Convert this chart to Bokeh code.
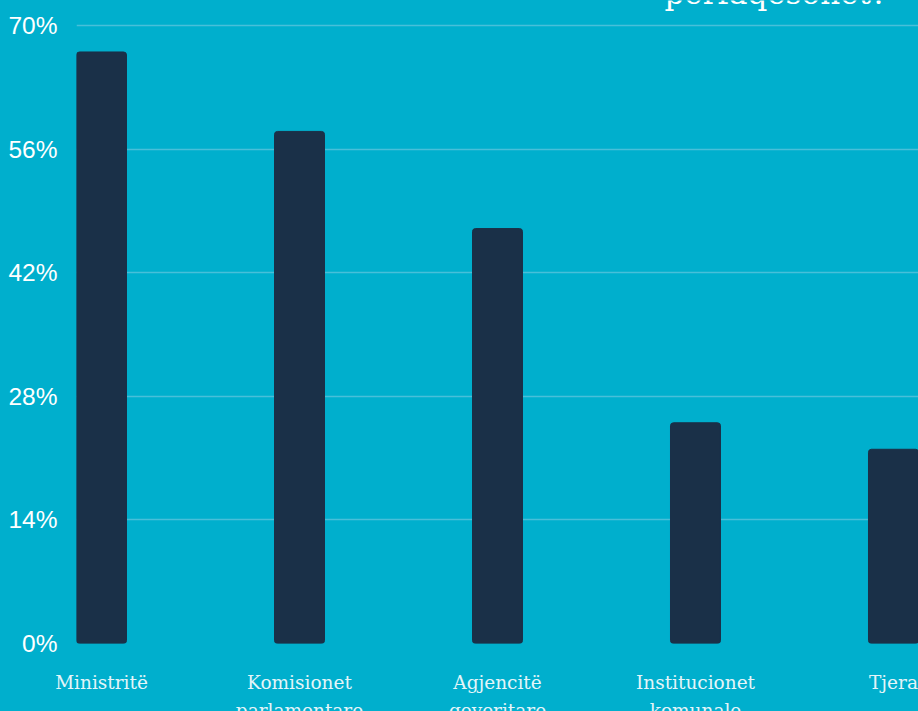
from bokeh.plotting import figure
from bokeh.models import FixedTicker, Range1d, Label
from bokeh.embed import file_html
from bokeh.resources import INLINE

categories = ["Ministritë", "Komisionet\nparlamentare", "Agjencitë\nqeveritare",
              "Institucionet\nkomunale", "Tjera"]
values = [67, 58, 47, 25, 22]
y_ticks = [0, 14, 28, 42, 56, 70]
title_text = "përfaqësohet?"

BG = "#00AFCD"
BAR = "#1A3048"

xs = list(range(len(categories)))

p = figure(frame_width=842, frame_height=643, output_backend="svg", toolbar_location=None,
           x_range=Range1d(-0.1263, 4.1263), y_range=Range1d(0, 72.83),
           min_border_left=76, min_border_right=0, min_border_top=0, min_border_bottom=0)
p.background_fill_color = BG
p.border_fill_color = BG
p.outline_line_color = None

p.vbar(x=xs, top=values, width=0.2525, color=BAR, border_radius=3)

p.xgrid.grid_line_color = None
p.ygrid.grid_line_color = "#48BFD9"
p.ygrid.grid_line_width = 1.5
p.ygrid.ticker = FixedTicker(ticks=y_ticks)

p.yaxis.ticker = FixedTicker(ticks=y_ticks)
p.yaxis.major_label_overrides = {t: f"{t}%" for t in y_ticks}
p.yaxis.axis_line_color = None
p.yaxis.major_tick_line_color = None
p.yaxis.minor_tick_line_color = None
p.yaxis.major_label_standoff = 13
p.yaxis.major_label_text_font = "Liberation Sans"
p.yaxis.major_label_text_font_size = "24.5px"
p.yaxis.major_label_text_color = "#FFFFFF"

p.xaxis.ticker = FixedTicker(ticks=xs)
p.xaxis.major_label_overrides = {i: c for i, c in enumerate(categories)}
p.xaxis.axis_line_color = None
p.xaxis.major_tick_line_color = None
p.xaxis.minor_tick_line_color = None
p.xaxis.major_label_standoff = 22
p.xaxis.major_label_text_font = "DejaVu Serif"
p.xaxis.major_label_text_font_size = "18.5px"
p.xaxis.major_label_text_color = "#E4F5F9"
p.xaxis.major_label_text_line_height = 1.35

p.add_layout(Label(x=3.97, y=73.7, text=title_text, text_align="right",
                   text_baseline="alphabetic", text_font="DejaVu Serif",
                   text_font_size="31px", text_color="#FFFFFF"))

html = file_html(p, INLINE)
html = html.replace("<head>", "<head><style>html,body{margin:0;padding:0;background:%s;overflow:hidden}</style>" % BG, 1)
open("out.html", "w").write(html)
